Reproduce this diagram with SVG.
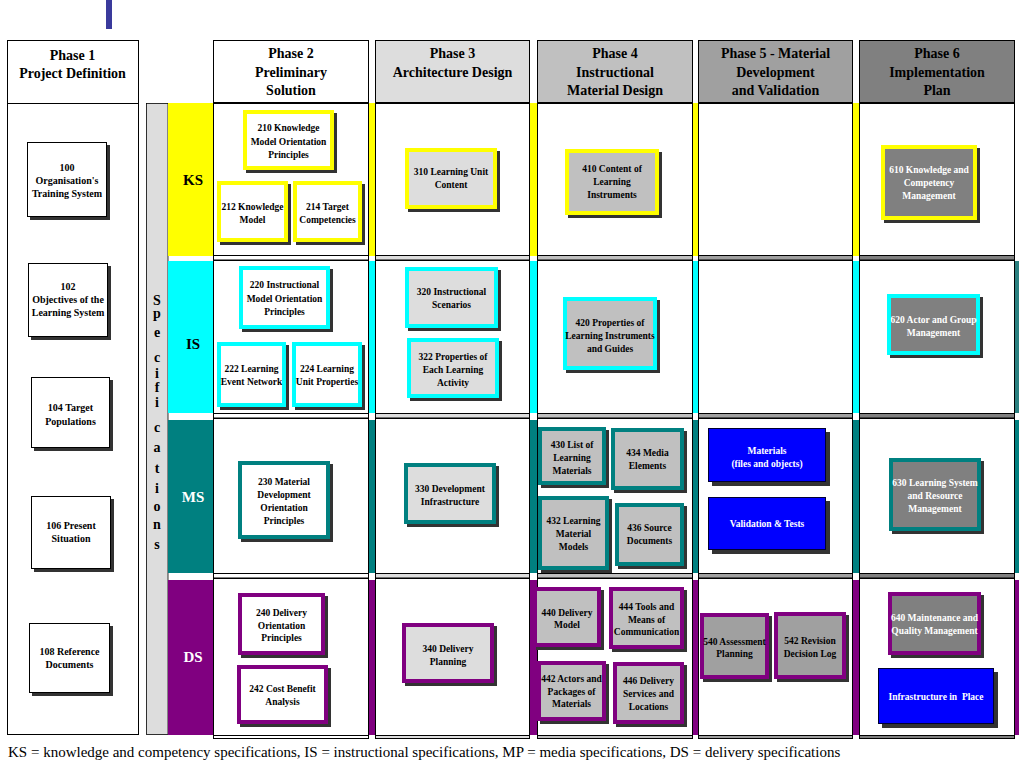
<svg xmlns="http://www.w3.org/2000/svg" width="1024" height="768" viewBox="0 0 1024 768">
<style>
text{font-family:"Liberation Serif","Times New Roman",serif;fill:#000}
.hd{font-weight:bold;font-size:14px;text-anchor:middle}
.bt{font-weight:bold;font-size:9.5px;text-anchor:middle}
.pt{font-weight:bold;font-size:10px;text-anchor:middle}
.wt{fill:#fff}
.rl{font-weight:bold;font-size:15px;text-anchor:middle}
.sp{font-weight:bold;font-size:14px;text-anchor:middle}
.cap{font-size:15px}
.sh{fill:#333}
.ln{stroke:#000;stroke-width:1}
.bk{fill:#fff;stroke:#000;stroke-width:1}
.ks{stroke:#ffff00;stroke-width:4}
.is{stroke:#00ffff;stroke-width:4}
.ms{stroke:#008080;stroke-width:4}
.ds{stroke:#800080;stroke-width:4}
.f0{fill:#fff}.f3{fill:#dddddd}.f4{fill:#c0c0c0}.f5{fill:#a0a0a0}.f6{fill:#808080}
.fb{fill:#0000ff;stroke:#000033;stroke-width:1}
</style>
<rect x="0" y="0" width="1024" height="768" fill="#fff"/>
<rect x="106" y="0" width="6" height="29" fill="#3a3a9c"/>

<g id="grid">
  <!-- phase 1 column -->
  <rect class="bk" x="7.5" y="40.5" width="131" height="63"/>
  <rect class="bk" x="7.5" y="103.5" width="131" height="631"/>
  <!-- specifications bar -->
  <rect x="146.5" y="103.5" width="21.5" height="631" fill="#dddddd" stroke="#000" stroke-width="0.8"/>
  <!-- row bands -->
  <rect x="168" y="103" width="847" height="153" fill="#ffff00"/>
  <rect x="168" y="261" width="847" height="152" fill="#00ffff"/>
  <rect x="168" y="420" width="847" height="153" fill="#008080"/>
  <rect x="168" y="580" width="847" height="155" fill="#800080"/>
  <rect x="1015" y="261" width="4" height="152" fill="#2a8080"/>
  <rect x="1015" y="420" width="4" height="153" fill="#008080"/>
  <rect x="1015" y="580" width="4" height="155" fill="#800080"/>
  <!-- gap bands between rows -->
  <g class="ln">
    <rect class="f0" x="213.5" y="255.5" width="155" height="4.5"/>
    <rect class="f0" x="213.5" y="413.5" width="155" height="4.5"/>
    <rect class="f0" x="213.5" y="573.5" width="155" height="4.5"/>
    <rect class="f0" x="213.5" y="735.5" width="155" height="3"/>
    <rect class="f3" x="375.5" y="255.5" width="154" height="4.5"/>
    <rect class="f3" x="375.5" y="413.5" width="154" height="4.5"/>
    <rect class="f3" x="375.5" y="573.5" width="154" height="4.5"/>
    <rect class="f3" x="375.5" y="735.5" width="154" height="3"/>
    <rect class="f4" x="537.5" y="255.5" width="155" height="4.5"/>
    <rect class="f4" x="537.5" y="413.5" width="155" height="4.5"/>
    <rect class="f4" x="537.5" y="573.5" width="155" height="4.5"/>
    <rect class="f4" x="537.5" y="735.5" width="155" height="3"/>
    <rect class="f5" x="698.5" y="255.5" width="154" height="4.5"/>
    <rect class="f5" x="698.5" y="413.5" width="154" height="4.5"/>
    <rect class="f5" x="698.5" y="573.5" width="154" height="4.5"/>
    <rect class="f5" x="698.5" y="735.5" width="154" height="3"/>
    <rect class="f6" x="859.5" y="255.5" width="155" height="4.5"/>
    <rect class="f6" x="859.5" y="413.5" width="155" height="4.5"/>
    <rect class="f6" x="859.5" y="573.5" width="155" height="4.5"/>
    <rect class="f6" x="859.5" y="735.5" width="155" height="3"/>
  </g>
  <!-- cells -->
  <g class="ln" fill="#fff">
    <rect x="213.5" y="103.5" width="155" height="152"/>
    <rect x="375.5" y="103.5" width="154" height="152"/>
    <rect x="537.5" y="103.5" width="155" height="152"/>
    <rect x="698.5" y="103.5" width="154" height="152"/>
    <rect x="859.5" y="103.5" width="155" height="152"/>
    <rect x="213.5" y="260.5" width="155" height="153"/>
    <rect x="375.5" y="260.5" width="154" height="153"/>
    <rect x="537.5" y="260.5" width="155" height="153"/>
    <rect x="698.5" y="260.5" width="154" height="153"/>
    <rect x="859.5" y="260.5" width="155" height="153"/>
    <rect x="213.5" y="418.5" width="155" height="155"/>
    <rect x="375.5" y="418.5" width="154" height="155"/>
    <rect x="537.5" y="418.5" width="155" height="155"/>
    <rect x="698.5" y="418.5" width="154" height="155"/>
    <rect x="859.5" y="418.5" width="155" height="155"/>
    <rect x="213.5" y="578.5" width="155" height="157"/>
    <rect x="375.5" y="578.5" width="154" height="157"/>
    <rect x="537.5" y="578.5" width="155" height="157"/>
    <rect x="698.5" y="578.5" width="154" height="157"/>
    <rect x="859.5" y="578.5" width="155" height="157"/>
  </g>
</g>

<g id="headers">
  <g id="phase1"><text class="hd"><tspan x="72.5" y="60">Phase 1</tspan><tspan x="72.5" y="78">Project Definition</tspan></text></g>
  <g id="phase2"><rect class="bk" x="213.5" y="40.5" width="155" height="62"/><text class="hd"><tspan x="291" y="58">Phase 2</tspan><tspan x="291" y="77">Preliminary</tspan><tspan x="291" y="95">Solution</tspan></text></g>
  <g id="phase3"><rect class="ln f3" x="375.5" y="40.5" width="154" height="62"/><text class="hd"><tspan x="452.5" y="58">Phase 3</tspan><tspan x="452.5" y="77">Architecture Design</tspan></text></g>
  <g id="phase4"><rect class="ln f4" x="537.5" y="40.5" width="155" height="62"/><text class="hd"><tspan x="615" y="58">Phase 4</tspan><tspan x="615" y="77">Instructional</tspan><tspan x="615" y="95">Material Design</tspan></text></g>
  <g id="phase5"><rect class="ln f5" x="698.5" y="40.5" width="154" height="62"/><text class="hd"><tspan x="775.5" y="58">Phase 5 - Material</tspan><tspan x="775.5" y="77">Development</tspan><tspan x="775.5" y="95">and Validation</tspan></text></g>
  <g id="phase6"><rect class="ln f6" x="859.5" y="40.5" width="155" height="62"/><text class="hd"><tspan x="937" y="58">Phase 6</tspan><tspan x="937" y="77">Implementation</tspan><tspan x="937" y="95">Plan</tspan></text></g>
</g>

<g id="spec-label">
  <text class="sp" x="157" y="305" font-size="16">S</text>
  <text class="sp" x="157" y="318">p</text>
  <text class="sp" x="157" y="337">e</text>
  <text class="sp" x="157" y="362">c</text>
  <text class="sp" x="157" y="378">i</text>
  <text class="sp" x="157" y="392">f</text>
  <text class="sp" x="157" y="407">i</text>
  <text class="sp" x="157" y="432">c</text>
  <text class="sp" x="157" y="452">a</text>
  <text class="sp" x="157" y="473">t</text>
  <text class="sp" x="157" y="493">i</text>
  <text class="sp" x="157" y="511">o</text>
  <text class="sp" x="157" y="529">n</text>
  <text class="sp" x="157" y="549">s</text>
</g>

<g id="row-labels">
  <text class="rl" x="193" y="185">KS</text>
  <text class="rl" x="193" y="349">IS</text>
  <text class="rl wt" x="193" y="502">MS</text>
  <text class="rl wt" x="193" y="662">DS</text>
</g>

<!-- Phase 1 nodes -->
<g id="n100"><rect class="sh" x="30" y="145" width="80" height="75"/><rect class="bk" x="27.5" y="142.5" width="79" height="74"/><text class="pt"><tspan x="67" y="171">100</tspan><tspan x="67" y="184">Organisation's</tspan><tspan x="67" y="197">Training System</tspan></text></g>
<g id="n102"><rect class="sh" x="31" y="266" width="80" height="74"/><rect class="bk" x="28.5" y="263.5" width="79" height="73"/><text class="pt"><tspan x="68" y="290">102</tspan><tspan x="68" y="303">Objectives of the</tspan><tspan x="68" y="316">Learning System</tspan></text></g>
<g id="n104"><rect class="sh" x="34" y="380" width="79" height="71"/><rect class="bk" x="31.5" y="377.5" width="78" height="70"/><text class="pt"><tspan x="70.5" y="411">104 Target</tspan><tspan x="70.5" y="425">Populations</tspan></text></g>
<g id="n106"><rect class="sh" x="34" y="499" width="80" height="73"/><rect class="bk" x="31.5" y="496.5" width="79" height="72"/><text class="pt"><tspan x="71" y="529">106 Present</tspan><tspan x="71" y="542">Situation</tspan></text></g>
<g id="n108"><rect class="sh" x="32" y="626" width="81" height="70"/><rect class="bk" x="29.5" y="623.5" width="80" height="69"/><text class="pt"><tspan x="69.5" y="655">108 Reference</tspan><tspan x="69.5" y="668">Documents</tspan></text></g>

<!-- KS row -->
<g id="n210"><rect class="sh" x="246" y="113" width="91" height="60"/><rect class="ks f0" x="245" y="112" width="87" height="56"/><text class="bt"><tspan x="288.5" y="131">210 Knowledge</tspan><tspan x="288.5" y="145">Model Orientation</tspan><tspan x="288.5" y="158">Principles</tspan></text></g>
<g id="n212"><rect class="sh" x="220" y="184" width="71" height="61"/><rect class="ks f0" x="219" y="183" width="67" height="57"/><text class="bt"><tspan x="252.5" y="210">212 Knowledge</tspan><tspan x="252.5" y="223">Model</tspan></text></g>
<g id="n214"><rect class="sh" x="296" y="184" width="69" height="61"/><rect class="ks f0" x="295" y="183" width="65" height="57"/><text class="bt"><tspan x="327.5" y="210">214 Target</tspan><tspan x="327.5" y="223">Competencies</tspan></text></g>
<g id="n310"><rect class="sh" x="408" y="151" width="92" height="61"/><rect class="ks f3" x="407" y="150" width="88" height="57"/><text class="bt"><tspan x="451" y="175">310 Learning Unit</tspan><tspan x="451" y="188">Content</tspan></text></g>
<g id="n410"><rect class="sh" x="568" y="152" width="94" height="66"/><rect class="ks f4" x="567" y="151" width="90" height="62"/><text class="bt"><tspan x="612" y="172">410 Content of</tspan><tspan x="612" y="185">Learning</tspan><tspan x="612" y="198">Instruments</tspan></text></g>
<g id="n610"><rect class="sh" x="884" y="148" width="96" height="75"/><rect class="ks f6" x="883" y="147" width="92" height="71"/><text class="bt wt"><tspan x="929" y="173">610 Knowledge and</tspan><tspan x="929" y="186">Competency</tspan><tspan x="929" y="199">Management</tspan></text></g>

<!-- IS row -->
<g id="n220"><rect class="sh" x="242" y="269" width="91" height="63"/><rect class="is f0" x="241" y="268" width="87" height="59"/><text class="bt"><tspan x="284.5" y="288">220 Instructional</tspan><tspan x="284.5" y="302">Model Orientation</tspan><tspan x="284.5" y="315">Principles</tspan></text></g>
<g id="n222"><rect class="sh" x="220" y="345" width="69" height="65"/><rect class="is f0" x="219" y="344" width="65" height="61"/><text class="bt"><tspan x="251.5" y="371.5">222 Learning</tspan><tspan x="251.5" y="384.5">Event Network</tspan></text></g>
<g id="n224"><rect class="sh" x="295" y="345" width="70" height="65"/><rect class="is f0" x="294" y="344" width="66" height="61"/><text class="bt"><tspan x="327" y="371.5">224 Learning</tspan><tspan x="327" y="384.5">Unit Properties</tspan></text></g>
<g id="n320"><rect class="sh" x="408" y="270" width="93" height="61"/><rect class="is f3" x="407" y="269" width="89" height="57"/><text class="bt"><tspan x="451.5" y="295">320 Instructional</tspan><tspan x="451.5" y="308">Scenarios</tspan></text></g>
<g id="n322"><rect class="sh" x="410" y="341" width="92" height="60"/><rect class="is f3" x="409" y="340" width="88" height="56"/><text class="bt"><tspan x="453" y="360">322 Properties of</tspan><tspan x="453" y="373">Each Learning</tspan><tspan x="453" y="386">Activity</tspan></text></g>
<g id="n420"><rect class="sh" x="566" y="300" width="94" height="73"/><rect class="is f4" x="565" y="299" width="90" height="69"/><text class="bt"><tspan x="610" y="325.5">420 Properties of</tspan><tspan x="610" y="338.5">Learning Instruments</tspan><tspan x="610" y="351.5">and Guides</tspan></text></g>
<g id="n620"><rect class="sh" x="890" y="297" width="93" height="61"/><rect class="is f6" x="889" y="296" width="89" height="57"/><text class="bt wt"><tspan x="933.5" y="323">620 Actor and Group</tspan><tspan x="933.5" y="336">Management</tspan></text></g>

<!-- MS row -->
<g id="n230"><rect class="sh" x="241" y="464" width="92" height="78"/><rect class="ms f0" x="240" y="463" width="88" height="74"/><text class="bt"><tspan x="284" y="485">230 Material</tspan><tspan x="284" y="498">Development</tspan><tspan x="284" y="511">Orientation</tspan><tspan x="284" y="524">Principles</tspan></text></g>
<g id="n330"><rect class="sh" x="407" y="466" width="92" height="61"/><rect class="ms f3" x="406" y="465" width="88" height="57"/><text class="bt"><tspan x="450" y="492">330 Development</tspan><tspan x="450" y="505">Infrastructure</tspan></text></g>
<g id="n430"><rect class="sh" x="541" y="430" width="68" height="58"/><rect class="ms f4" x="540" y="429" width="64" height="54"/><text class="bt"><tspan x="572" y="448">430 List of</tspan><tspan x="572" y="461">Learning</tspan><tspan x="572" y="474">Materials</tspan></text></g>
<g id="n434"><rect class="sh" x="614" y="431" width="73" height="62"/><rect class="ms f4" x="613" y="430" width="69" height="58"/><text class="bt"><tspan x="647.5" y="456">434 Media</tspan><tspan x="647.5" y="469">Elements</tspan></text></g>
<g id="n432"><rect class="sh" x="541" y="499" width="71" height="74"/><rect class="ms f4" x="540" y="498" width="67" height="70"/><text class="bt"><tspan x="573.5" y="524">432 Learning</tspan><tspan x="573.5" y="537">Material</tspan><tspan x="573.5" y="550">Models</tspan></text></g>
<g id="n436"><rect class="sh" x="618" y="506" width="69" height="63"/><rect class="ms f4" x="617" y="505" width="65" height="59"/><text class="bt"><tspan x="649.5" y="531">436 Source</tspan><tspan x="649.5" y="544">Documents</tspan></text></g>
<g id="n-materials"><rect class="sh" x="712" y="432" width="118" height="54"/><rect class="fb" x="708.5" y="428.5" width="117" height="53"/><text class="bt wt"><tspan x="767" y="454">Materials</tspan><tspan x="767" y="467">(files and objects)</tspan></text></g>
<g id="n-validation"><rect class="sh" x="712" y="501" width="118" height="53"/><rect class="fb" x="708.5" y="497.5" width="117" height="52"/><text class="bt wt" x="767" y="527">Validation &amp; Tests</text></g>
<g id="n630"><rect class="sh" x="892" y="461" width="92" height="73"/><rect class="ms f6" x="891" y="460" width="88" height="69"/><text class="bt wt"><tspan x="935" y="486">630 Learning System</tspan><tspan x="935" y="499">and Resource</tspan><tspan x="935" y="512">Management</tspan></text></g>

<!-- DS row -->
<g id="n240"><rect class="sh" x="241" y="596" width="87" height="62"/><rect class="ds f0" x="240" y="595" width="83" height="58"/><text class="bt"><tspan x="281.5" y="616">240 Delivery</tspan><tspan x="281.5" y="628.5">Orientation</tspan><tspan x="281.5" y="641">Principles</tspan></text></g>
<g id="n242"><rect class="sh" x="240" y="668" width="91" height="59"/><rect class="ds f0" x="239" y="667" width="87" height="55"/><text class="bt"><tspan x="282.5" y="692">242 Cost Benefit</tspan><tspan x="282.5" y="705">Analysis</tspan></text></g>
<g id="n340"><rect class="sh" x="405" y="626" width="92" height="60"/><rect class="ds f3" x="404" y="625" width="88" height="56"/><text class="bt"><tspan x="448" y="652">340 Delivery</tspan><tspan x="448" y="665">Planning</tspan></text></g>
<g id="n440"><rect class="sh" x="536" y="590" width="68" height="60"/><rect class="ds f4" x="535" y="589" width="64" height="56"/><text class="bt"><tspan x="567" y="616">440 Delivery</tspan><tspan x="567" y="628">Model</tspan></text></g>
<g id="n444"><rect class="sh" x="612" y="590" width="75" height="62"/><rect class="ds f4" x="611" y="589" width="71" height="58"/><text class="bt"><tspan x="646.5" y="610">444 Tools and</tspan><tspan x="646.5" y="622.5">Means of</tspan><tspan x="646.5" y="635">Communication</tspan></text></g>
<g id="n442"><rect class="sh" x="540" y="664" width="69" height="60"/><rect class="ds f4" x="539" y="663" width="65" height="56"/><text class="bt"><tspan x="571.5" y="682">442 Actors and</tspan><tspan x="571.5" y="694.5">Packages of</tspan><tspan x="571.5" y="707">Materials</tspan></text></g>
<g id="n446"><rect class="sh" x="616" y="665" width="71" height="62"/><rect class="ds f4" x="615" y="664" width="67" height="58"/><text class="bt"><tspan x="648.5" y="684">446 Delivery</tspan><tspan x="648.5" y="697">Services and</tspan><tspan x="648.5" y="710">Locations</tspan></text></g>
<g id="n540"><rect class="sh" x="703" y="616" width="69" height="66"/><rect class="ds f5" x="702" y="615" width="65" height="62"/><text class="bt"><tspan x="734.5" y="645">540 Assessment</tspan><tspan x="734.5" y="657">Planning</tspan></text></g>
<g id="n542"><rect class="sh" x="777" y="615" width="72" height="67"/><rect class="ds f5" x="776" y="614" width="68" height="63"/><text class="bt"><tspan x="810" y="644">542 Revision</tspan><tspan x="810" y="657">Decision Log</tspan></text></g>
<g id="n640"><rect class="sh" x="891" y="595" width="93" height="63"/><rect class="ds f6" x="890" y="594" width="89" height="59"/><text class="bt wt"><tspan x="934.5" y="621">640 Maintenance and</tspan><tspan x="934.5" y="634">Quality Management</tspan></text></g>
<g id="n-infrastructure"><rect class="sh" x="882" y="672" width="116" height="56"/><rect class="fb" x="878.5" y="668.5" width="115" height="55"/><text class="bt wt" x="936" y="700" xml:space="preserve">Infrastructure in  Place</text></g>

<text class="cap" x="8" y="757">KS = knowledge and competency specifications, IS = instructional specifications, MP = media specifications, DS = delivery specifications</text>
</svg>
